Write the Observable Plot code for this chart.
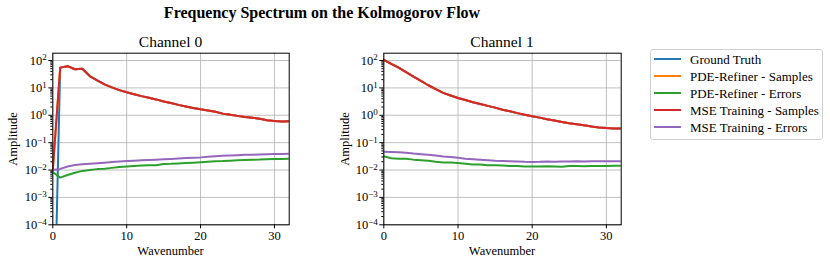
<!DOCTYPE html>
<html><head><meta charset="utf-8">
<script src="https://cdn.jsdelivr.net/npm/d3@7"></script>
<script src="https://cdn.jsdelivr.net/npm/@observablehq/plot@0.6"></script>
<style>
body{margin:0;background:#fff;font-family:"Liberation Serif",serif;color:#000}
#root{position:relative;width:830px;height:265px;overflow:hidden;background:#fff}
.abs{position:absolute;white-space:nowrap;line-height:1}
.c{transform:translate(-50%,-50%)}
svg{position:absolute}
</style></head><body><div id="root"></div>
<script>
// ---- data ----
const wavenumbers = [0,1,2,3,4,5,6,7,8,9,10,11,12,13,14,15,16,17,18,19,20,21,22,23,24,25,26,27,28,29,30,31,32];
const seriesNames = ["Ground Truth","PDE-Refiner - Samples","PDE-Refiner - Errors","MSE Training - Samples","MSE Training - Errors"];
const seriesColors = ["#1f77b4","#ff7f0e","#2ca02c","#d62728","#9467bd"];
const channelTitles = ["Channel 0","Channel 1"];
const xTicks = [0,10,20,30];
const yTicks = [1e-4,1e-3,1e-2,1e-1,1e0,1e1,1e2];
const yTickBase = "10";
const yTickExponents = ["\u22124","\u22123","\u22122","\u22121","0","1","2"];

// Channel 0
const gt0 = [1e-10,55,62,48,50,27,19,13.5,10.5,8.3,6.9,5.9,5.0,4.4,3.8,3.2,2.8,2.4,2.1,1.85,1.65,1.5,1.35,1.15,1.05,0.95,0.87,0.82,0.74,0.66,0.62,0.59,0.61];
const pdeSamples0 = [0.01,55,62,48,50,27,19,13.5,10.5,8.3,6.9,5.9,5.0,4.4,3.8,3.2,2.8,2.4,2.1,1.85,1.65,1.5,1.35,1.15,1.05,0.95,0.87,0.82,0.74,0.66,0.62,0.59,0.61];
const pdeErrors0 = [0.0085,0.0053,0.0066,0.0080,0.0093,0.0100,0.0108,0.0112,0.0120,0.0128,0.0135,0.0140,0.0145,0.0150,0.0150,0.0165,0.0168,0.0175,0.0180,0.0185,0.0192,0.0200,0.0208,0.0212,0.0220,0.0230,0.0235,0.0238,0.0242,0.0250,0.0255,0.0255,0.0258];
const mseSamples0 = [0.01,55,62,48,50,27,19,13.5,10.5,8.3,6.9,5.9,5.0,4.4,3.8,3.2,2.8,2.4,2.1,1.85,1.65,1.5,1.35,1.15,1.05,0.95,0.87,0.82,0.74,0.66,0.62,0.59,0.61];
const mseErrors0 = [0.0100,0.0110,0.0135,0.0152,0.0162,0.0170,0.0178,0.0186,0.0195,0.0205,0.0215,0.0220,0.0228,0.0235,0.0240,0.0248,0.0255,0.0265,0.0275,0.0282,0.0290,0.0305,0.0318,0.0330,0.0338,0.0348,0.0360,0.0362,0.0370,0.0380,0.0385,0.0388,0.0395];

// Channel 1
const gt1 = [105,75,55,38,26,18,12.5,9,6.6,5.3,4.3,3.6,3.0,2.6,2.2,1.9,1.6,1.4,1.2,1.05,0.92,0.82,0.72,0.64,0.57,0.51,0.47,0.43,0.39,0.36,0.34,0.33,0.33];
const pdeSamples1 = [105,75,55,38,26,18,12.5,9,6.6,5.3,4.3,3.6,3.0,2.6,2.2,1.9,1.6,1.4,1.2,1.05,0.92,0.82,0.72,0.64,0.57,0.51,0.47,0.43,0.39,0.36,0.34,0.33,0.33];
const pdeErrors1 = [0.032,0.027,0.026,0.026,0.024,0.023,0.022,0.020,0.019,0.019,0.018,0.017,0.016,0.016,0.015,0.015,0.0145,0.014,0.014,0.0135,0.0135,0.0135,0.0138,0.0135,0.0133,0.014,0.014,0.0138,0.014,0.014,0.014,0.0142,0.0145];
const mseSamples1 = [105,75,55,38,26,18,12.5,9,6.6,5.3,4.3,3.6,3.0,2.6,2.2,1.9,1.6,1.4,1.2,1.05,0.92,0.82,0.72,0.64,0.57,0.51,0.47,0.43,0.39,0.36,0.34,0.33,0.33];
const mseErrors1 = [0.047,0.046,0.045,0.043,0.040,0.038,0.036,0.034,0.031,0.030,0.028,0.026,0.025,0.024,0.023,0.022,0.0215,0.021,0.0205,0.020,0.0198,0.020,0.0205,0.0202,0.0205,0.0205,0.021,0.0205,0.021,0.021,0.021,0.021,0.021];

// ---- drawing ----
const root = document.getElementById("root");
const FONT = "'Liberation Serif', serif";
const minor = [];
for (let e = -4; e < 2; e++) for (let m = 2; m <= 9; m++) minor.push(m * Math.pow(10, e));

function addText(txt, x, y, css) {
  const d = document.createElement("div");
  d.className = "abs c";
  d.textContent = txt;
  d.style.left = x + "px"; d.style.top = y + "px";
  Object.assign(d.style, css || {});
  root.appendChild(d);
  return d;
}

function panel(series, left, mL, mR) {
  const marks = [
    Plot.gridX(xTicks, {stroke: "#b0b0b0", strokeOpacity: 1, strokeWidth: 0.8}),
    Plot.gridY(yTicks, {stroke: "#b0b0b0", strokeOpacity: 1, strokeWidth: 0.8})
  ];
  series.forEach((arr, i) => {
    const rows = arr.map((v, j) => ({k: wavenumbers[j], amp: v, s: seriesNames[i]}));
    marks.push(Plot.line(rows, {x: "k", y: "amp", stroke: "s", strokeWidth: 2, clip: true}));
  });
  marks.push(
    Plot.frame({stroke: "black", strokeWidth: 1}),
    Plot.axisX(xTicks, {tickSize: 4, tickPadding: 2, label: null, fontSize: 12.5}),
    Plot.axisY(minor, {tickSize: 2, label: null, tickFormat: () => ""}),
    Plot.axisY(yTicks, {tickSize: 4, tickPadding: 2, label: null, fontSize: 12.5,
      tickFormat: d => "E" + yTicks.indexOf(d)})
  );
  const svg = Plot.plot({
    width: 300, height: 240,
    marginTop: 27.7, marginBottom: 40.7, marginLeft: mL, marginRight: mR,
    style: {fontFamily: FONT, fontSize: "12.5px", background: "transparent", color: "black"},
    x: {domain: [0, 32]},
    y: {type: "log", domain: [1e-4, 185]},
    color: {domain: seriesNames, range: seriesColors},
    marks
  });
  svg.style.left = left + "px";
  svg.style.top = "25px";
  root.appendChild(svg);
  // superscript exponents
  svg.querySelectorAll("text").forEach(t => {
    const m = /^E(\d+)$/.exec(t.textContent);
    if (!m) return;
    const i = +m[1];
    t.textContent = "";
    const ns = "http://www.w3.org/2000/svg";
    const a = document.createElementNS(ns, "tspan");
    a.textContent = yTickBase;
    const b = document.createElementNS(ns, "tspan");
    b.textContent = yTickExponents[i];
    b.setAttribute("dy", "-0.45em");
    b.setAttribute("font-size", "9px");
    t.appendChild(a); t.appendChild(b);
  });
}

panel([gt0, pdeSamples0, pdeErrors0, mseSamples0, mseErrors0], 0, 52.3, 11.3);
panel([gt1, pdeSamples1, pdeErrors1, mseSamples1, mseErrors1], 330, 53.3, 9.3);

// titles and labels
addText("Frequency Spectrum on the Kolmogorov Flow", 322, 13, {fontWeight: "bold", fontSize: "16px"});
addText(channelTitles[0], 170.5, 42, {fontSize: "15.5px"});
addText(channelTitles[1], 502, 42, {fontSize: "15.5px"});
addText("Amplitude", 12.7, 138.5, {fontSize: "12.5px", transform: "translate(-50%,-50%) rotate(-90deg)"});
addText("Amplitude", 345, 138.5, {fontSize: "12.5px", transform: "translate(-50%,-50%) rotate(-90deg)"});
addText("Wavenumber", 170.5, 251, {fontSize: "12.5px"});
addText("Wavenumber", 502, 251, {fontSize: "12.5px"});

// legend
const lg = document.createElement("div");
Object.assign(lg.style, {position: "absolute", left: "650px", top: "49px", width: "171px", height: "89px",
  border: "1px solid #d0d0d0", borderRadius: "3px", background: "#fff"});
root.appendChild(lg);
seriesNames.forEach((name, i) => {
  const y = 59 + i * 17.1;
  const sw = document.createElement("div");
  Object.assign(sw.style, {position: "absolute", left: "654px", top: (y - 1) + "px", width: "27px", height: "2px", background: seriesColors[i]});
  root.appendChild(sw);
  const t = document.createElement("div");
  t.className = "abs";
  t.textContent = name;
  Object.assign(t.style, {left: "690px", top: y + "px", transform: "translateY(-50%)", fontSize: "13px"});
  root.appendChild(t);
});
</script>
</body></html>
